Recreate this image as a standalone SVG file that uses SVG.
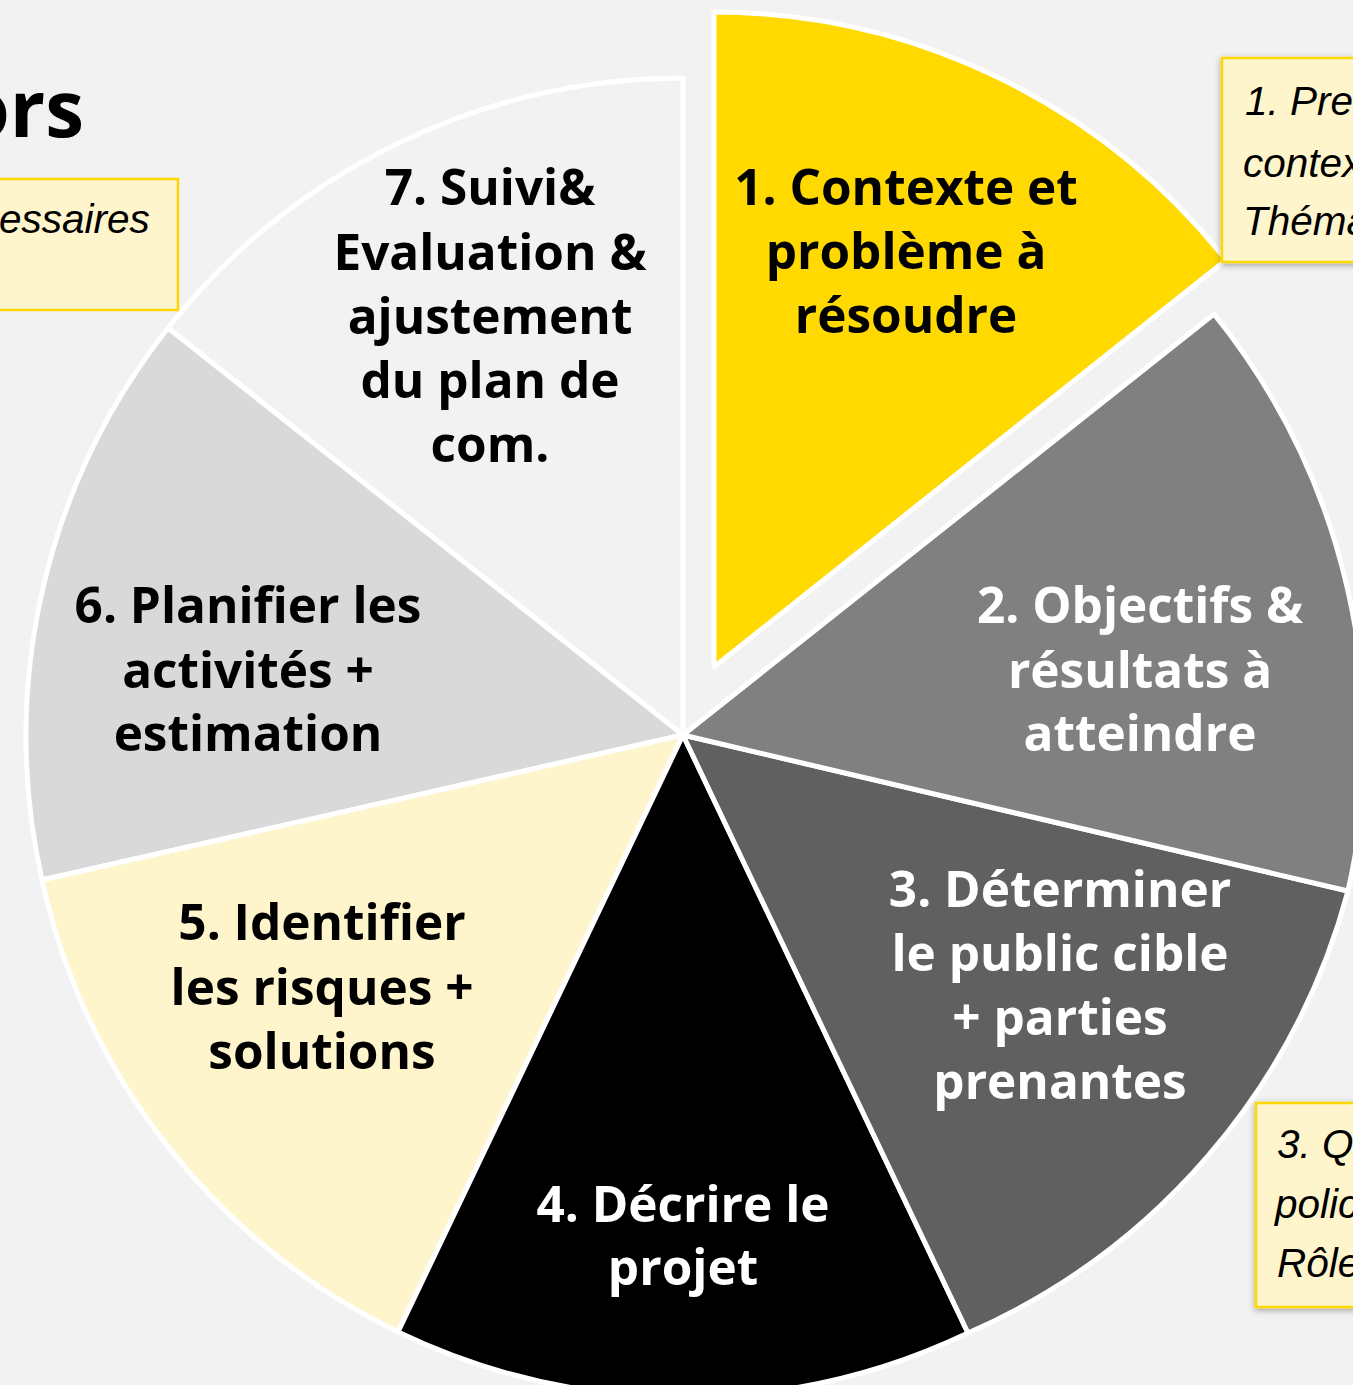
<svg xmlns="http://www.w3.org/2000/svg" width="1353" height="1385" viewBox="0 0 1353 1385">
<defs>
<style>
.seg{stroke:#FFFFFF;stroke-width:5;stroke-linejoin:round}
.lbl{font-family:"Open Sans","DejaVu Sans",sans-serif;font-weight:700;font-size:49.5px;text-anchor:middle}
.dk{fill:#000000}
.wt{fill:#FFFFFF}
.box{fill:#FFF5CC;stroke:#FFD700;stroke-width:2.5}
.note{font-family:"Liberation Sans",Arial,sans-serif;font-style:italic;font-size:40.5px;fill:#000000}
</style>
<filter id="sh" x="-20%" y="-20%" width="140%" height="140%">
<feDropShadow dx="0" dy="2" stdDeviation="3" flood-color="#000000" flood-opacity="0.35"/>
</filter>
</defs>
<rect x="0" y="0" width="1353" height="1385" fill="#F2F2F2"/>

<g id="title">
<text x="84" y="137" style="font-family:'Open Sans','DejaVu Sans',sans-serif;font-weight:700;font-size:78px;text-anchor:end" fill="#000000">ors</text>
</g>

<g id="seg7">
<path class="seg" d="M683,735 L168,328 A657,657 0 0 1 683,78 Z" fill="#F2F2F2"/>
<text class="lbl dk"><tspan x="490" y="205">7. Suivi&amp;</tspan><tspan x="490" y="270">Evaluation &amp;</tspan><tspan x="490" y="334">ajustement</tspan><tspan x="490" y="398">du plan de</tspan><tspan x="490" y="462">com.</tspan></text>
</g>
<g id="seg6">
<path class="seg" d="M683,735 L42,880 A658,658 0 0 1 168,328 Z" fill="#D9D9D9"/>
<text class="lbl dk"><tspan x="248" y="623">6. Planifier les</tspan><tspan x="248" y="688">activités +</tspan><tspan x="248" y="751">estimation</tspan></text>
</g>
<g id="seg5">
<path class="seg" d="M683,735 L398,1332 A660,660 0 0 1 42,880 Z" fill="#FFF5CC"/>
<text class="lbl dk"><tspan x="322" y="940">5. Identifier</tspan><tspan x="322" y="1005">les risques +</tspan><tspan x="322" y="1069">solutions</tspan></text>
</g>
<g id="seg4">
<path class="seg" d="M683,735 L968,1333 A661,661 0 0 1 398,1332 Z" fill="#000000"/>
<text class="lbl wt"><tspan x="683" y="1222">4. Décrire le</tspan><tspan x="683" y="1285">projet</tspan></text>
</g>
<g id="seg3">
<path class="seg" d="M683,735 L1348,891 A672,672 0 0 1 968,1333 Z" fill="#606060"/>
<text class="lbl wt"><tspan x="1060" y="907">3. Déterminer</tspan><tspan x="1060" y="971">le public cible</tspan><tspan x="1060" y="1035">+ parties</tspan><tspan x="1060" y="1099">prenantes</tspan></text>
</g>
<g id="seg2">
<path class="seg" d="M683,735 L1214,314 A680,680 0 0 1 1348,891 Z" fill="#808080"/>
<text class="lbl wt"><tspan x="1140" y="623">2. Objectifs &amp;</tspan><tspan x="1140" y="688">résultats à</tspan><tspan x="1140" y="751">atteindre</tspan></text>
</g>
<g id="seg1">
<path class="seg" d="M714,667 L714,12 A655,655 0 0 1 1226,260 Z" fill="#FFD900"/>
<text class="lbl dk"><tspan x="906" y="205">1. Contexte et</tspan><tspan x="906" y="269">problème à</tspan><tspan x="906" y="333">résoudre</tspan></text>
</g>

<g id="note-left">
<rect class="box" x="-10" y="179" width="188" height="131"/>
<text class="note" x="-1" y="233">essaires</text>
</g>
<g id="note-top-right">
<rect class="box" x="1222" y="58" width="150" height="204" filter="url(#sh)"/>
<text class="note"><tspan x="1245" y="115">1. Pre</tspan><tspan x="1243" y="177">contex</tspan><tspan x="1243" y="235">Théma</tspan></text>
</g>
<g id="note-bottom-right">
<rect class="box" x="1256" y="1103" width="120" height="204" filter="url(#sh)"/>
<text class="note"><tspan x="1277" y="1158">3. Q</tspan><tspan x="1275" y="1218">polic</tspan><tspan x="1277" y="1277">Rôle</tspan></text>
</g>
<g id="connectors"/>
</svg>
